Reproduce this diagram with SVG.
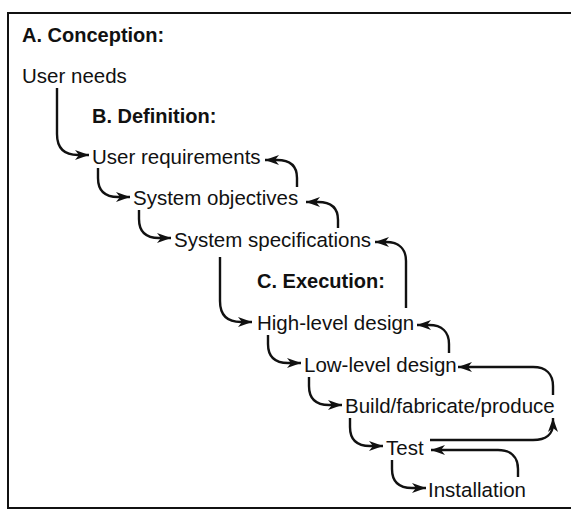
<svg xmlns="http://www.w3.org/2000/svg" width="571" height="511" viewBox="0 0 571 511">
<style>
text{font-family:"Liberation Sans",Arial,Helvetica,sans-serif;fill:#111}
.t{font-size:20.5px}
.h{font-size:20px;font-weight:bold}
.c{fill:none;stroke:#111;stroke-width:2.4;stroke-linecap:butt}
.f{fill:none;stroke:#111;stroke-width:2}
</style>
<defs>
<marker id="ah" markerUnits="userSpaceOnUse" markerWidth="15" markerHeight="12" viewBox="0 0 15 12" refX="14" refY="6" orient="auto">
<path d="M0,1 L14,6 L0,11 L4,6 Z" fill="#111"/>
</marker>
</defs>
<g id="frame">
<path class="f" d="M571,13 L8,13 L8,508 L571,508"/>
</g>
<g id="headings">
<text class="h" x="22" y="42">A. Conception:</text>
<text class="h" x="92" y="123">B. Definition:</text>
<text class="h" x="257" y="288">C. Execution:</text>
</g>
<g id="user-needs"><text class="t" x="22" y="83">User needs</text></g>
<g id="user-requirements"><text class="t" x="92" y="164">User requirements</text></g>
<g id="system-objectives"><text class="t" x="133" y="205">System objectives</text></g>
<g id="system-specifications"><text class="t" x="174" y="247">System specifications</text></g>
<g id="high-level-design"><text class="t" x="257" y="330">High-level design</text></g>
<g id="low-level-design"><text class="t" x="304" y="372">Low-level design</text></g>
<g id="build"><text class="t" x="345" y="413">Build/fabricate/produce</text></g>
<g id="test"><text class="t" x="386" y="455">Test</text></g>
<g id="installation"><text class="t" x="428" y="497">Installation</text></g>
<g id="connectors">
<path class="c" marker-end="url(#ah)" d="M57,88 L57,134 C57,148 64,155 78,155 L89,155"/>
<path class="c" marker-end="url(#ah)" d="M98,168 L98,178 C98,191 105,197 118,197 L130,197"/>
<path class="c" marker-end="url(#ah)" d="M139,210 L139,219 C139,232 146,238 159,238 L171,238"/>
<path class="c" marker-end="url(#ah)" d="M220,257 L220,301 C220,315 227,322 241,322 L252,322"/>
<path class="c" marker-end="url(#ah)" d="M268,335 L268,344 C268,357 275,363 288,363 L301,363"/>
<path class="c" marker-end="url(#ah)" d="M309,377 L309,386 C309,399 316,405 329,405 L342,405"/>
<path class="c" marker-end="url(#ah)" d="M350,418 L350,427 C350,440 357,446 370,446 L383,446"/>
<path class="c" marker-end="url(#ah)" d="M392,460 L392,469 C392,482 399,488 412,488 L426,488"/>
<path class="c" marker-end="url(#ah)" d="M297,187 L297,178 C297,166 290,160 277,160 L265,160"/>
<path class="c" marker-end="url(#ah)" d="M338,228 L338,220 C338,208 331,202 318,202 L306,202"/>
<path class="c" marker-end="url(#ah)" d="M406,308 L406,261 C406,249 399,242 386,242 L375,242"/>
<path class="c" marker-end="url(#ah)" d="M449,353 L449,344 C449,332 442,325 429,325 L417,325"/>
<path class="c" marker-end="url(#ah)" d="M553,395 L553,386 C553,374 546,367 533,367 L458,367"/>
<path class="c" marker-end="url(#ah)" d="M430,440 L533,440 C546,440 553,434 553,424 L553,418"/>
<path class="c" marker-end="url(#ah)" d="M518,477 L518,469 C518,457 511,450 498,450 L431,450"/>
</g>
</svg>
